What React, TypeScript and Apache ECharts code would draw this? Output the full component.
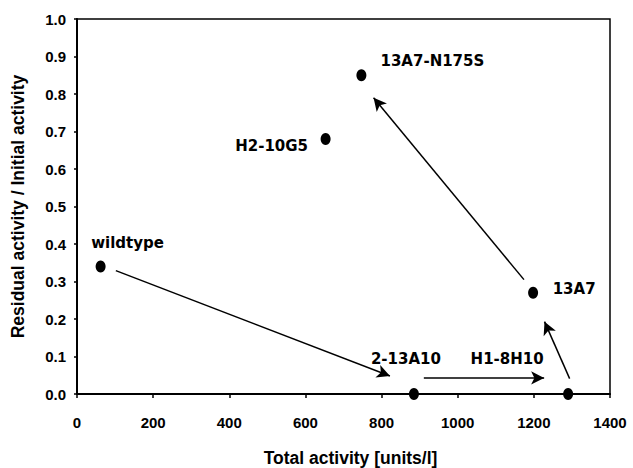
import React, { useEffect, useRef } from "react";
import * as echarts from "echarts";

// ---- data ----
const pointNames = ["wildtype", "2-13A10", "H1-8H10", "13A7", "13A7-N175S", "H2-10G5"];
const totalActivity = [62, 885, 1290, 1198, 747, 653];
const residualActivity = [0.34, 0, 0, 0.27, 0.85, 0.68];

// arrows (start -> arrowhead centre), in data units
const arrowStartX = [102, 911, 1294, 1174];
const arrowStartY = [0.329, 0.043, 0.041, 0.305];
const arrowEndX = [822, 1227, 1228, 779];
const arrowEndY = [0.048, 0.043, 0.193, 0.79];

const xTicks = { min: 0, max: 1400, interval: 200 };
const yTicks = { min: 0, max: 1.0, interval: 0.1 };

// ---- layout (label offsets from point centre, px) ----
const labelOffsets: Record<string, [number, number]> = {
  wildtype: [27, -24],
  "2-13A10": [-8, -35],
  "H1-8H10": [-61, -35],
  "13A7": [41, -4],
  "13A7-N175S": [71, -14],
  "H2-10G5": [-54, 7],
};

export default function App() {
  const ref = useRef<HTMLDivElement>(null);
  useEffect(() => {
    document.body.style.margin = "0";
    if (!ref.current) return;
    const chart = echarts.init(ref.current, null, { renderer: "svg" });
    const axisFont = { fontFamily: "Liberation Sans, Arial, sans-serif", fontWeight: "bold" as const, color: "#000" };
    chart.setOption({
      animation: false,
      backgroundColor: "#fff",
      grid: {
        left: 77,
        top: 19,
        right: 23,
        bottom: 74,
        containLabel: false,
        outerBoundsMode: "none",
        show: true,
        borderColor: "#000",
        borderWidth: 1.5,
        backgroundColor: "transparent",
      },
      xAxis: {
        type: "value",
        min: xTicks.min,
        max: xTicks.max,
        interval: xTicks.interval,
        name: "Total activity [units/l]",
        nameLocation: "middle",
        nameGap: 55,
        nameTextStyle: { ...axisFont, fontSize: 17.5, padding: [0, 0, 0, 14] },
        axisLine: { show: true, lineStyle: { color: "#000", width: 2 } },
        axisTick: { show: true, length: 4, lineStyle: { color: "#000", width: 1.5 } },
        axisLabel: { ...axisFont, fontSize: 15, margin: 21, formatter: (v: number) => String(v) },
        splitLine: { show: false },
      },
      yAxis: {
        type: "value",
        min: yTicks.min,
        max: yTicks.max,
        interval: yTicks.interval,
        name: "Residual activity / Initial activity",
        nameLocation: "middle",
        nameGap: 50,
        nameTextStyle: { ...axisFont, fontSize: 17.5 },
        axisLine: { show: true, lineStyle: { color: "#000", width: 2 } },
        axisTick: { show: true, length: 3, lineStyle: { color: "#000", width: 1.5 } },
        axisLabel: {
          ...axisFont,
          fontSize: 15,
          margin: 11,
          padding: [6, 0, 0, 0],
          formatter: (v: number) => v.toFixed(1),
        },
        splitLine: { show: false },
      },
      series: [
        {
          type: "scatter",
          clip: false,
          symbol: "circle",
          symbolSize: [10, 12],
          itemStyle: { color: "#000", opacity: 1 },
          data: pointNames.map((n, i) => ({
            name: n,
            value: [totalActivity[i], residualActivity[i]],
            label: { offset: labelOffsets[n] },
          })),
          label: {
            show: true,
            position: "inside",
            formatter: "{b}",
            fontFamily: "DejaVu Sans, sans-serif",
            fontWeight: "bold",
            fontSize: 15,
            color: "#000",
            opacity: 1,
          },
          markLine: {
            silent: true,
            animation: false,
            symbol: ["none", "arrow"],
            symbolSize: [10, 13],
            label: { show: false },
            lineStyle: { color: "#000", width: 1.5, type: "solid", opacity: 1 },
            emphasis: { disabled: true },
            data: arrowStartX.map((_, i) => [
              { coord: [arrowStartX[i], arrowStartY[i]] },
              { coord: [arrowEndX[i], arrowEndY[i]] },
            ]),
          },
        },
      ],
    });
    return () => chart.dispose();
  }, []);
  return <div ref={ref} style={{ width: 633, height: 468 }} />;
}
